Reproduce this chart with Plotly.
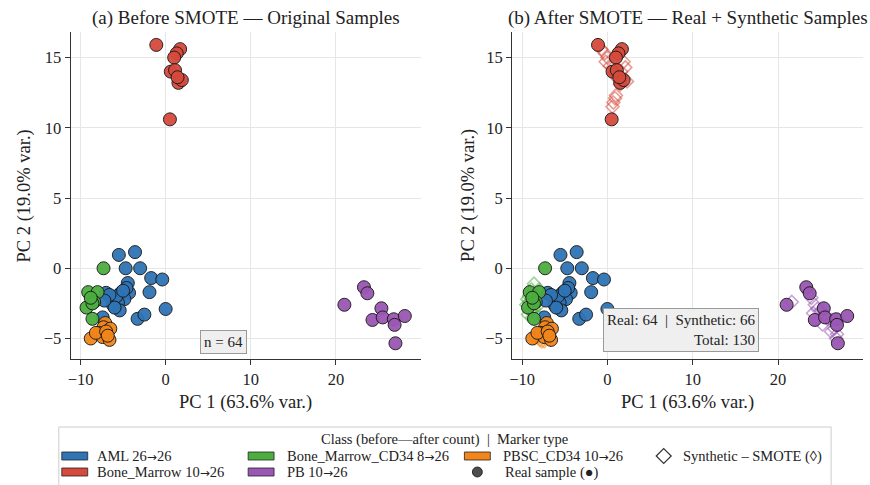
import plotly.graph_objects as go

# ---------------- data (PCA scores, PC1 / PC2) ----------------
classes = ["AML", "Bone_Marrow", "Bone_Marrow_CD34", "PB", "PBSC_CD34"]
count_before = [26, 10, 8, 10, 10]
count_after = [26, 26, 26, 26, 26]
class_colors = ["#2f74b5", "#d64a3c", "#4cae3f", "#9b57b4", "#f2861a"]

aml_x = [-5.5, -3.6, -4.7, -3.0, -1.7, -0.4, -4.45, -1.9, -4.3, -5.25, -6.3, -7.0, -4.85,
         -5.6, -6.2, -5.4, -3.3, -2.5, 0.0, -7.4, -5.8, -4.6, -6.6, -5.0, -6.0, -7.2]
aml_y = [0.95, 1.15, 0.0, 0.0, -0.7, -0.8, -1.05, -1.7, -1.75, -1.75, -2.05, -1.75, -2.2,
         -2.45, -2.6, -3.0, -3.6, -3.3, -2.9, -3.5, -2.0, -1.4, -1.9, -1.6, -2.8, -2.3]

bm_x = [-1.1, 1.7, 1.3, 1.0, 0.6, 1.1, 1.5, 1.9, 1.4, 0.5]
bm_y = [15.9, 15.6, 15.3, 15.0, 14.0, 14.1, 13.2, 13.4, 13.6, 10.6]

cd34_x = [-7.3, -9.1, -8.0, -8.4, -9.3, -8.6, -8.6, -8.8]
cd34_y = [0.0, -1.7, -1.7, -2.4, -2.8, -2.5, -3.6, -2.1]

pb_x = [21.0, 23.3, 23.7, 25.35, 24.3, 25.5, 26.8, 26.9, 28.1, 27.0]
pb_y = [-2.6, -1.35, -1.78, -2.85, -3.68, -3.5, -3.63, -4.03, -3.4, -5.34]

pbsc_x = [-7.1, -7.3, -6.5, -8.8, -7.8, -7.4, -6.6, -8.2, -7.0, -6.8]
pbsc_y = [-3.9, -4.2, -4.3, -5.0, -4.6, -4.9, -5.1, -4.6, -4.5, -4.8]

# SMOTE synthetic samples (AML needs none)
syn_aml_x, syn_aml_y = [], []
syn_bm_x = [-0.7, -0.3, 0.0, -0.2, 0.3, 1.9, 2.1, 1.6, 0.9, 1.2, 2.3, 1.5, 0.9, 0.7, 0.6, 1.0]
syn_bm_y = [15.6, 15.3, 15.0, 14.7, 14.4, 14.7, 14.3, 14.0, 13.9, 13.5, 13.3, 13.1, 12.1, 11.8, 11.5, 12.3]
syn_cd34_x = [-8.6, -8.9, -8.3, -9.2, -9.5, -8.7, -8.2, -9.0, -8.5, -9.3, -8.8, -8.4, -9.1,
              -8.7, -8.6, -9.4, -8.0, -8.9]
syn_cd34_y = [-1.1, -1.5, -1.9, -2.0, -2.6, -2.3, -2.7, -3.0, -3.2, -3.3, -3.5, -2.1, -2.4,
              -1.8, -2.9, -2.2, -1.5, -3.1]
syn_pb_x = [21.6, 23.6, 23.9, 24.3, 24.6, 24.1, 25.0, 25.4, 25.8, 25.2, 26.3, 26.6, 27.1, 26.9, 26.8, 26.2]
syn_pb_y = [-2.4, -1.7, -2.1, -2.6, -2.9, -3.2, -3.0, -3.3, -3.6, -4.0, -3.7, -4.3, -3.7, -4.7, -5.0, -4.5]
syn_pbsc_x = [-7.2, -7.0, -6.8, -7.5, -8.0, -8.4, -7.6, -7.3, -6.9, -7.9, -8.5, -7.1, -6.7, -7.4, -7.7, -8.1]
syn_pbsc_y = [-4.0, -4.3, -4.5, -4.4, -4.6, -4.8, -4.8, -5.0, -5.0, -5.1, -5.0, -4.7, -4.9, -5.2, -5.2, -4.9]

real_x = [aml_x, bm_x, cd34_x, pb_x, pbsc_x]
real_y = [aml_y, bm_y, cd34_y, pb_y, pbsc_y]
syn_x = [syn_aml_x, syn_bm_x, syn_cd34_x, syn_pb_x, syn_pbsc_x]
syn_y = [syn_aml_y, syn_bm_y, syn_cd34_y, syn_pb_y, syn_pbsc_y]

pc1_var, pc2_var = 63.6, 19.0
x_ticks = [-10, 0, 10, 20]
y_ticks = [-5, 0, 5, 10, 15]

# ---------------- layout helpers ----------------
W, H = 870, 485
FONT = "Liberation Serif, Times New Roman, serif"
INK = "#222222"


def px(x):
    return x / W


def py(y):
    return 1 - y / H


n_real = sum(len(v) for v in real_x)
n_syn = sum(len(v) for v in syn_x)

fig = go.Figure()

# panel (a): original samples
for name, col, xs, ys in zip(classes, class_colors, real_x, real_y):
    fig.add_trace(go.Scatter(
        x=xs, y=ys, mode="markers", name=name, showlegend=False,
        xaxis="x", yaxis="y",
        marker=dict(symbol="circle", size=13, color=col, opacity=0.95,
                    line=dict(color="#1a1a1a", width=1)),
    ))

# panel (b): synthetic first, real samples on top
for name, col, xs, ys in zip(classes, class_colors, syn_x, syn_y):
    if not xs:
        continue
    fig.add_trace(go.Scatter(
        x=xs, y=ys, mode="markers", name=name + " (SMOTE)", showlegend=False,
        xaxis="x2", yaxis="y2",
        marker=dict(symbol="diamond-open", size=10, color=col, opacity=0.55,
                    line=dict(width=1.6)),
    ))
for name, col, xs, ys in zip(classes, class_colors, real_x, real_y):
    fig.add_trace(go.Scatter(
        x=xs, y=ys, mode="markers", name=name, showlegend=False,
        xaxis="x2", yaxis="y2",
        marker=dict(symbol="circle", size=13, color=col, opacity=0.95,
                    line=dict(color="#1a1a1a", width=1)),
    ))

axis_common = dict(
    showgrid=True, gridcolor="#e6e6e6", gridwidth=0.8,
    zeroline=False, showline=True, linecolor="#333333", linewidth=1.3,
    ticks="outside", ticklen=5, tickwidth=1.2, tickcolor="#333333",
    tickfont=dict(family=FONT, size=16.5, color=INK),
    mirror=False,
)
x_range = [-11.15, 29.95]
y_range = [-6.46, 16.82]
y_dom = [py(359), py(32)]


def minus(vals):
    return [f"{v:g}".replace("-", "\u2212") for v in vals]


fig.update_layout(
    width=W, height=H,
    margin=dict(l=0, r=0, t=0, b=0),
    paper_bgcolor="white", plot_bgcolor="white",
    font=dict(family=FONT, color=INK),
    xaxis=dict(domain=[px(68), px(419)], range=x_range, tickvals=x_ticks,
               ticktext=minus(x_ticks), anchor="y", **axis_common),
    yaxis=dict(domain=y_dom, range=y_range, tickvals=y_ticks,
               ticktext=minus(y_ticks), anchor="x", **axis_common),
    xaxis2=dict(domain=[px(511), px(863)], range=x_range, tickvals=x_ticks,
                ticktext=minus(x_ticks), anchor="y2", **axis_common),
    yaxis2=dict(domain=y_dom, range=y_range, tickvals=y_ticks,
                ticktext=minus(y_ticks), anchor="x2", **axis_common),
    showlegend=False,
)

ann = []
title_font = dict(family=FONT, size=19, color=INK)
label_font = dict(family=FONT, size=18.5, color=INK)
ann.append(dict(text="(a) Before SMOTE \u2014 Original Samples", x=px(243.5), y=py(18),
                xref="paper", yref="paper", showarrow=False, font=title_font,
                xanchor="center", yanchor="middle"))
ann.append(dict(text="(b) After SMOTE \u2014 Real + Synthetic Samples", x=px(687), y=py(18),
                xref="paper", yref="paper", showarrow=False, font=title_font,
                xanchor="center", yanchor="middle"))
for cx in (243.5, 687):
    ann.append(dict(text=f"PC 1 ({pc1_var:.1f}% var.)", x=px(cx), y=py(402),
                    xref="paper", yref="paper", showarrow=False, font=label_font,
                    xanchor="center", yanchor="middle"))
for cx in (22, 467):
    ann.append(dict(text=f"PC 2 ({pc2_var:.1f}% var.)", x=px(cx), y=py(195.5),
                    xref="paper", yref="paper", showarrow=False, font=label_font,
                    textangle=-90, xanchor="center", yanchor="middle"))

box_font = dict(family=FONT, size=15, color=INK)
ann.append(dict(text=f"n = {n_real}", x=px(221), y=py(342),
                xref="paper", yref="paper", showarrow=False, font=box_font,
                xanchor="center", yanchor="middle",
                bgcolor="#efefef", bordercolor="#9a9a9a", borderwidth=1, borderpad=3))
sp = "\u00a0\u00a0"
ann.append(dict(text=f"Real: {n_real}{sp}|{sp}Synthetic: {n_syn}<br>Total: {n_real + n_syn}",
                x=px(759), y=py(352), xref="paper", yref="paper", showarrow=False,
                font=box_font, align="right", xanchor="right", yanchor="bottom",
                bgcolor="#efefef", bordercolor="#9a9a9a", borderwidth=1, borderpad=3))

# ---------------- legend (class patches + marker-type keys) ----------------
shapes = []
leg_font = dict(family=FONT, size=14.5, color=INK)
arrow = "<span style='font-family:DejaVu Sans;font-size:12px'>\u2192</span>"
shapes.append(dict(type="rect", xref="paper", yref="paper",
                   x0=px(56), x1=px(831), y0=py(492), y1=py(427),
                   line=dict(color="#cccccc", width=1), fillcolor="white", layer="below"))
ann.append(dict(text=f"Class (before\u2014after count){sp}|{sp}Marker type",
                x=px(443.5), y=py(439), xref="paper", yref="paper", showarrow=False,
                font=leg_font, xanchor="center", yanchor="middle"))

row_y = [456, 472]
patch_slots = [(59, 92, 0), (59, 92, 1), (246, 283, 0), (246, 283, 1), (463, 500, 0)]
for (name, col, nb, na), (x0, tx, r) in zip(zip(classes, class_colors, count_before, count_after),
                                             patch_slots):
    yc = row_y[r]
    shapes.append(dict(type="rect", xref="paper", yref="paper",
                       x0=px(x0), x1=px(x0 + 26), y0=py(yc + 4), y1=py(yc - 4),
                       line=dict(color="#222222", width=0.8), fillcolor=col))
    ann.append(dict(text=f"{name} {nb}{arrow}{na}", x=px(tx), y=py(yc),
                    xref="paper", yref="paper", showarrow=False, font=leg_font,
                    xanchor="left", yanchor="middle"))

# real-sample key (filled circle)
cx, cy, r = 476, row_y[1], 5
shapes.append(dict(type="circle", xref="paper", yref="paper",
                   x0=px(cx - r), x1=px(cx + r), y0=py(cy + r), y1=py(cy - r),
                   line=dict(color="#111111", width=0.8), fillcolor="#4d4d4d"))
ann.append(dict(text="Real sample (\u25cf)", x=px(502), y=py(cy), xref="paper", yref="paper",
                showarrow=False, font=leg_font, xanchor="left", yanchor="middle"))

# synthetic key (open diamond)
dx, dy, d = 663, row_y[0], 7.5
path = (f"M {px(dx - d)},{py(dy)} L {px(dx)},{py(dy - d)} "
        f"L {px(dx + d)},{py(dy)} L {px(dx)},{py(dy + d)} Z")
shapes.append(dict(type="path", xref="paper", yref="paper", path=path,
                   line=dict(color="#333333", width=1.2), fillcolor="white"))
ann.append(dict(text="Synthetic \u2013 SMOTE (\u25ca)", x=px(680), y=py(dy), xref="paper",
                yref="paper", showarrow=False, font=leg_font, xanchor="left", yanchor="middle"))

fig.update_layout(annotations=ann, shapes=shapes)
fig.write_html("out.html")
